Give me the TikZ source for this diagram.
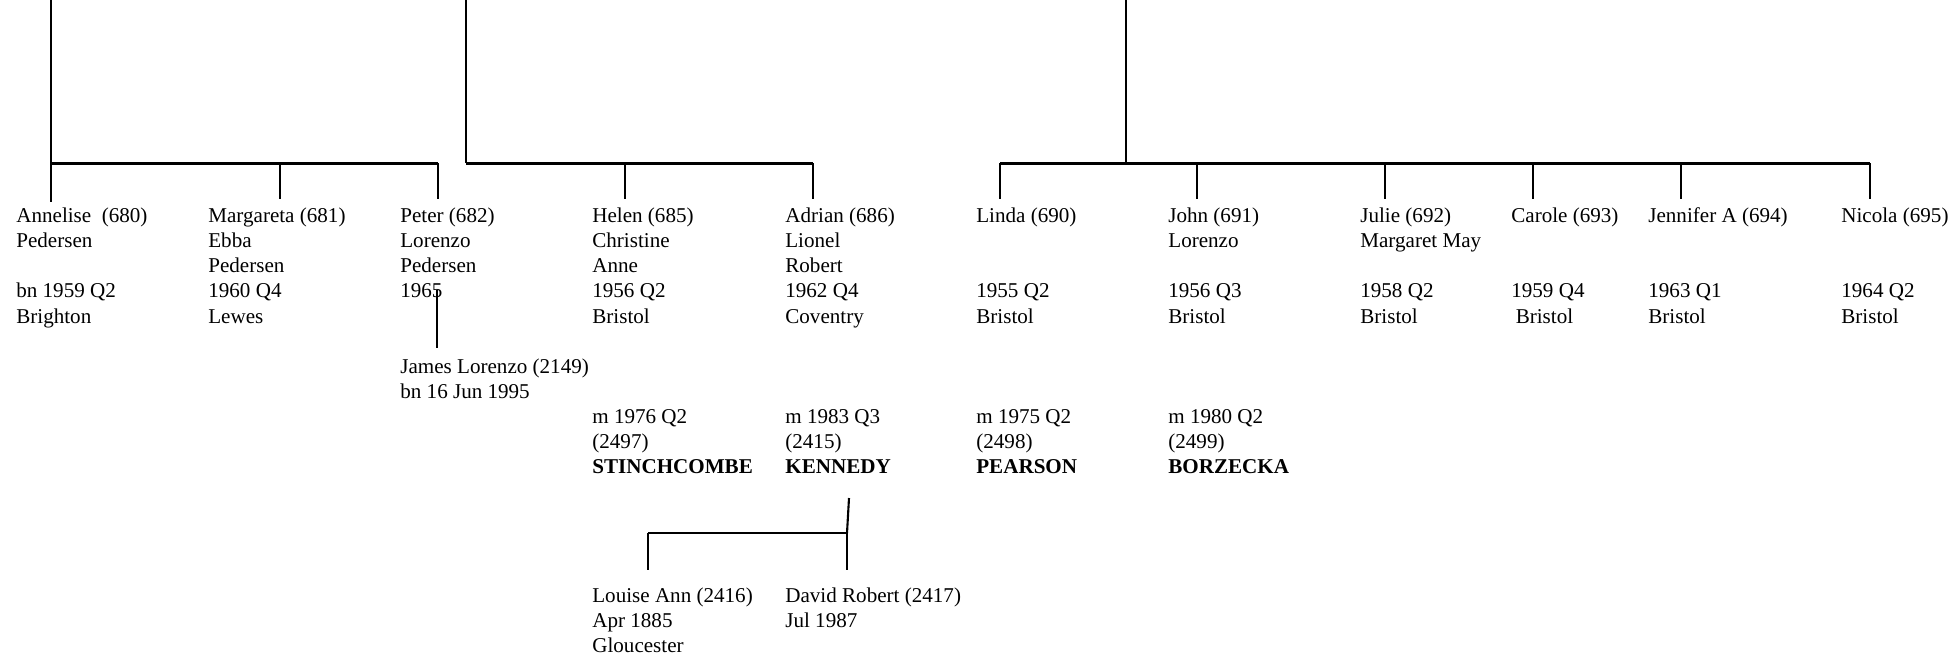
\documentclass[tikz,border=0pt]{standalone}
\usepackage{fontspec}
\setmainfont{Liberation Serif}
\usepackage{tikz}

\begin{document}
\begin{tikzpicture}[x=0.02cm, y=-0.02cm,
        every node/.style={font=\fontsize{12}{14.4}\selectfont},
        person/.style={anchor=north west, inner sep=0pt, align=left},
        line/.style={line width=1.2pt},
        bar/.style={line width=1.7pt}]
        \useasboundingbox (0,0) rectangle (1953,654);

        % Children
        \node[person] (annelise) at (16,204) {\strut Annelise~ (680)\\Pedersen\\\mbox{}\\bn 1959 Q2\\Brighton};
        \node[person] (margareta) at (208,204) {\strut Margareta (681)\\Ebba\\Pedersen\\1960 Q4\\Lewes};
        \node[person] (peter) at (400,204) {\strut Peter (682)\\Lorenzo\\Pedersen\\1965};
        \node[person] (helen) at (592,204) {\strut Helen (685)\\Christine\\Anne\\1956 Q2\\Bristol};
        \node[person] (adrian) at (785,204) {\strut Adrian (686)\\Lionel\\Robert\\1962 Q4\\Coventry};
        \node[person] (linda) at (976,204) {\strut Linda (690)\\\mbox{}\\\mbox{}\\1955 Q2\\Bristol};
        \node[person] (john) at (1168,204) {\strut John (691)\\Lorenzo\\\mbox{}\\1956 Q3\\Bristol};
        \node[person] (julie) at (1360,204) {\strut Julie (692)\\Margaret May\\\mbox{}\\1958 Q2\\Bristol};
        \node[person] (carole) at (1511,204) {\strut Carole (693)\\\mbox{}\\\mbox{}\\1959 Q4\\\hspace{2.5pt}Bristol};
        \node[person] (jennifer) at (1648,204) {\strut Jennifer A (694)\\\mbox{}\\\mbox{}\\1963 Q1\\Bristol};
        \node[person] (nicola) at (1841,204) {\strut Nicola (695)\\\mbox{}\\\mbox{}\\1964 Q2\\Bristol};

        % Grandchild of Peter
        \node[person] (james) at (400,355) {\strut James Lorenzo (2149)\\bn 16 Jun 1995};

        % Marriages
        \node[person] (mhelen) at (592,405) {\strut m 1976 Q2\\(2497)\\\textbf{STINCHCOMBE}};
        \node[person] (madrian) at (785,405) {\strut m 1983 Q3\\(2415)\\\textbf{KENNEDY}};
        \node[person] (mlinda) at (976,405) {\strut m 1975 Q2\\(2498)\\\textbf{PEARSON}};
        \node[person] (mjohn) at (1168,405) {\strut m 1980 Q2\\(2499)\\\textbf{BORZECKA}};

        % Grandchildren of Adrian
        \node[person] (louise) at (592,584) {\strut Louise Ann (2416)\\Apr 1885\\Gloucester};
        \node[person] (david) at (785,584) {\strut David Robert (2417)\\Jul 1987};

        % First family
        \coordinate (top1) at (51,0);
        \coordinate (j11) at (51,163);
        \coordinate (j12) at (280,163);
        \coordinate (j13) at (438,163);
        \draw[line] (top1) -- (j11);
        \draw[bar] (j11) -- (j13);
        \draw[line, shorten >=1pt] (j11) -- (j11 |- annelise.north);
        \draw[line, shorten >=3pt] (j12) -- (j12 |- margareta.north);
        \draw[line, shorten >=3pt] (j13) -- (j13 |- peter.north);

        % Second family
        \coordinate (top2) at (466,0);
        \coordinate (j21) at (466,163);
        \coordinate (j22) at (625,163);
        \coordinate (j23) at (813,163);
        \draw[line] (top2) -- (j21);
        \draw[bar] (j21) -- (j23);
        \draw[line, shorten >=3pt] (j22) -- (j22 |- helen.north);
        \draw[line, shorten >=3pt] (j23) -- (j23 |- adrian.north);

        % Third family
        \coordinate (top3) at (1126,0);
        \coordinate (j30) at (1126,163);
        \coordinate (j31) at (1000,163);
        \coordinate (j32) at (1197,163);
        \coordinate (j33) at (1385,163);
        \coordinate (j34) at (1533,163);
        \coordinate (j35) at (1681,163);
        \coordinate (j36) at (1870,163);
        \draw[line] (top3) -- (j30);
        \draw[bar] (j31) -- (j36);
        \draw[line, shorten >=3pt] (j31) -- (j31 |- linda.north);
        \draw[line, shorten >=3pt] (j32) -- (j32 |- john.north);
        \draw[line, shorten >=3pt] (j33) -- (j33 |- julie.north);
        \draw[line, shorten >=3pt] (j34) -- (j34 |- carole.north);
        \draw[line, shorten >=3pt] (j35) -- (j35 |- jennifer.north);
        \draw[line, shorten >=3pt] (j36) -- (j36 |- nicola.north);

        % Peter to James
        \coordinate (pj) at (437,290);
        \draw[line, shorten >=4pt] (pj) -- (pj |- james.north);

        % Adrian's children
        \coordinate (ktop) at (849,498);
        \coordinate (kbar) at (847,533);
        \coordinate (kleft) at (648,533);
        \draw[line] (ktop) -- (kbar);
        \draw[line] (kleft) -- (kbar);
        \draw[line, shorten >=8pt] (kleft) -- (kleft |- louise.north);
        \draw[line, shorten >=8pt] (kbar) -- (kbar |- david.north);
    \end{tikzpicture}
\end{document}
